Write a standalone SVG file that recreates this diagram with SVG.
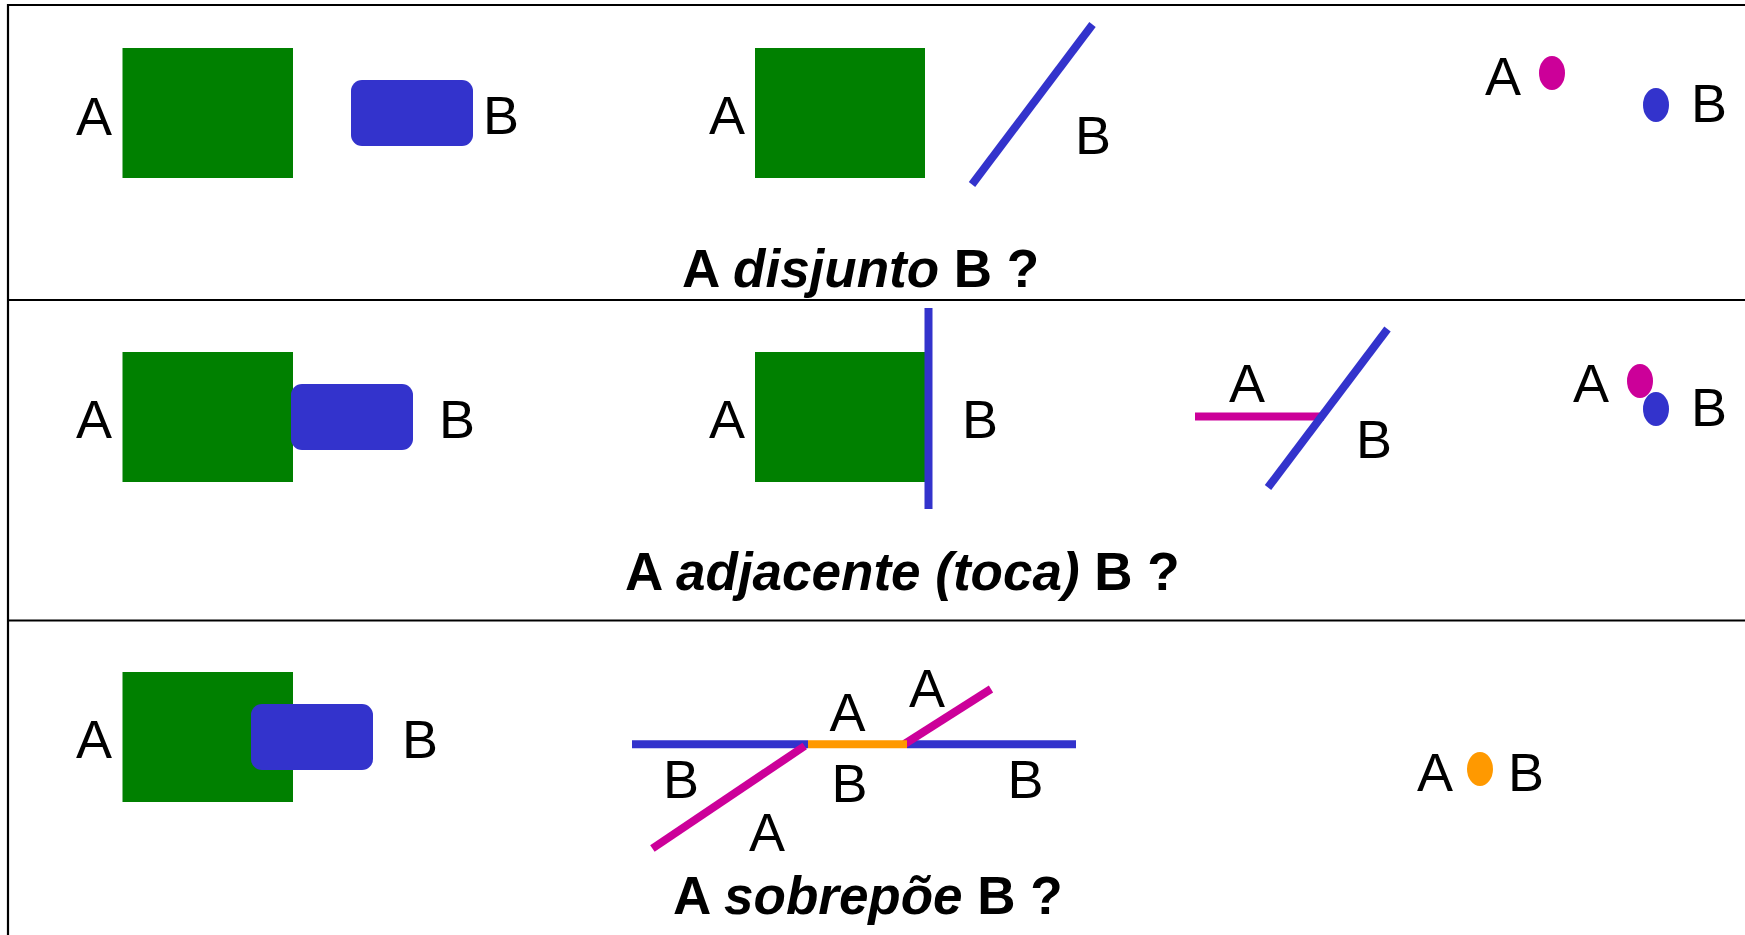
<svg xmlns="http://www.w3.org/2000/svg" width="1745" height="935" viewBox="0 0 1745 935">
<style>
.lbl{font-family:"Liberation Sans",Arial,Helvetica,sans-serif;font-size:54px;fill:#000}
.ttl{font-family:"Liberation Sans",Arial,Helvetica,sans-serif;font-size:53px;font-weight:bold;fill:#000}
.ttl .it{font-style:italic}
.grn{fill:#008000}
.blu{fill:#3333cc}
.frame{stroke:#000;stroke-width:2.2;fill:none}
.lb{stroke:#3333cc;stroke-width:8;fill:none}
.lm{stroke:#cc0099;stroke-width:8;fill:none}
.lo{stroke:#ff9900;stroke-width:8;fill:none}
</style>
<rect width="1745" height="935" fill="#fff"/>
<g id="frame">
<line class="frame" x1="8" y1="5" x2="1745" y2="5"/>
<line class="frame" x1="8" y1="4" x2="8" y2="935"/>
<line class="frame" x1="8" y1="300" x2="1745" y2="300"/>
<line class="frame" x1="8" y1="620.5" x2="1745" y2="620.5"/>
</g>
<!-- Row 1: disjunto -->
<g id="r1-areas">
<rect class="grn" x="122.5" y="48" width="170.5" height="130"/>
<rect class="blu" x="351" y="80" width="122" height="66" rx="11"/>
<text class="lbl" x="76" y="135">A</text>
<text class="lbl" x="483" y="134">B</text>
</g>
<g id="r1-area-line">
<rect class="grn" x="755" y="48" width="170" height="130"/>
<line class="lb" x1="972" y1="184.5" x2="1092.5" y2="24.5"/>
<text class="lbl" x="709" y="134">A</text>
<text class="lbl" x="1075" y="154">B</text>
</g>
<g id="r1-points">
<ellipse cx="1552" cy="73" rx="13" ry="17" fill="#cc0099"/>
<ellipse cx="1656" cy="105" rx="13" ry="17" fill="#3333cc"/>
<text class="lbl" x="1485" y="95">A</text>
<text class="lbl" x="1691" y="122">B</text>
</g>
<text class="ttl" x="682" y="287">A <tspan class="it">disjunto</tspan> B ?</text>
<!-- Row 2: adjacente -->
<g id="r2-areas">
<rect class="grn" x="122.5" y="352" width="170.5" height="130"/>
<rect class="blu" x="291" y="384" width="122" height="66" rx="11"/>
<text class="lbl" x="76" y="438">A</text>
<text class="lbl" x="439" y="438">B</text>
</g>
<g id="r2-area-line">
<rect class="grn" x="755" y="352" width="170" height="130"/>
<line class="lb" x1="928.5" y1="308" x2="928.5" y2="509"/>
<text class="lbl" x="709" y="438">A</text>
<text class="lbl" x="962" y="438">B</text>
</g>
<g id="r2-lines">
<line class="lm" x1="1195" y1="416.5" x2="1324" y2="416.5"/>
<line class="lb" x1="1268" y1="487.5" x2="1387.5" y2="329"/>
<text class="lbl" x="1229" y="402">A</text>
<text class="lbl" x="1356" y="458">B</text>
</g>
<g id="r2-points">
<ellipse cx="1640" cy="381" rx="13" ry="17" fill="#cc0099"/>
<ellipse cx="1656" cy="409" rx="13" ry="17" fill="#3333cc"/>
<text class="lbl" x="1573" y="402">A</text>
<text class="lbl" x="1691" y="426">B</text>
</g>
<text class="ttl" x="625" y="590">A <tspan class="it">adjacente (toca)</tspan> B ?</text>
<!-- Row 3: sobrepoe -->
<g id="r3-areas">
<rect class="grn" x="122.5" y="672" width="170.5" height="130"/>
<rect class="blu" x="251" y="704" width="122" height="66" rx="11"/>
<text class="lbl" x="76" y="758">A</text>
<text class="lbl" x="402" y="758">B</text>
</g>
<g id="r3-lines">
<line class="lb" x1="632" y1="744.3" x2="808" y2="744.3"/>
<line class="lb" x1="907" y1="744.3" x2="1076" y2="744.3"/>
<line class="lm" x1="652.4" y1="848.5" x2="804.7" y2="746"/>
<line class="lm" x1="904.5" y1="744" x2="991" y2="689"/>
<line class="lo" x1="808" y1="744.3" x2="907" y2="744.3"/>
<text class="lbl" x="829.5" y="731">A</text>
<text class="lbl" x="909" y="707">A</text>
<text class="lbl" x="663" y="798">B</text>
<text class="lbl" x="831.5" y="802">B</text>
<text class="lbl" x="1007.5" y="798">B</text>
<text class="lbl" x="749" y="851">A</text>
</g>
<g id="r3-points">
<ellipse cx="1480" cy="769" rx="13" ry="17" fill="#ff9900"/>
<text class="lbl" x="1417" y="791">A</text>
<text class="lbl" x="1508" y="791">B</text>
</g>
<text class="ttl" x="673" y="914">A <tspan class="it">sobrepõe</tspan> B ?</text>
</svg>
